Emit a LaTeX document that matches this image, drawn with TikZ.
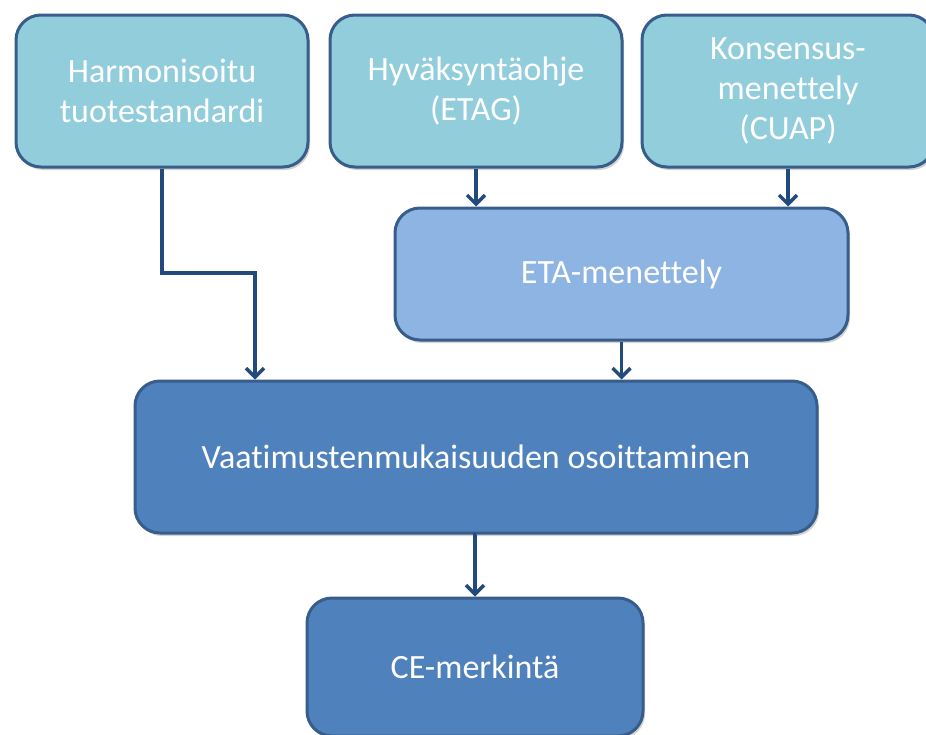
\documentclass[tikz,border=0pt]{standalone}
\usepackage{fontspec}
\setmainfont{Carlito}[Ligatures=NoCommon]
\usetikzlibrary{arrows.meta,shadows,calc}
\definecolor{lightbox}{HTML}{92CDDC}
\definecolor{midbox}{HTML}{8EB4E3}
\definecolor{darkbox}{HTML}{4F81BD}
\definecolor{boxborder}{HTML}{385D8A}
\definecolor{arrowcol}{HTML}{234A7C}
\tikzset{
  flowbox/.style={draw=boxborder, line width=3pt, rounded corners=25pt, text=white,
    align=center, inner sep=0pt, font=\fontsize{34}{40}\selectfont,
    drop shadow={opacity=0.35, shadow xshift=2pt, shadow yshift=-3pt}},
  lightstyle/.style={flowbox, fill=lightbox},
  midstyle/.style={flowbox, fill=midbox},
  darkstyle/.style={flowbox, fill=darkbox},
  conn/.style={draw=arrowcol, line width=3.5pt, -{Straight Barb[length=9pt,width=18pt,line width=3.5pt]}}
}
\begin{document}
\begin{tikzpicture}[x=1pt,y=-1pt]
\useasboundingbox (0,0) rectangle (926,734);
\begin{scope}
\clip (0,0) rectangle (926,734);
\node[lightstyle, minimum width=292pt, minimum height=152pt] (harm) at (162,91) {Harmonisoitu\\tuotestandardi};
\node[lightstyle, minimum width=292pt, minimum height=152pt] (hyv) at (476,91) {Hyväksyntäohje\\(ETAG)};
\node[lightstyle, minimum width=292pt, minimum height=152pt] (kons) at (788,91) {Konsensus-\\menettely\\(CUAP)};
\node[midstyle, minimum width=453pt, minimum height=132pt] (eta) at (621.5,274) {ETA-menettely};
\node[darkstyle, minimum width=682pt, minimum height=152pt] (vaat) at (476,457) {Vaatimustenmukaisuuden osoittaminen};
\node[darkstyle, minimum width=336pt, minimum height=138pt] (ce) at (475,667) {CE-merkintä};
\coordinate (bend) at (255,273);
\draw[conn] (harm.south) -- (harm.south |- bend) -- (bend) -- (bend |- vaat.north);
\draw[conn] (hyv.south) -- (hyv.south |- eta.north);
\draw[conn] (kons.south) -- (kons.south |- eta.north);
\draw[conn] (eta.south) -- (eta.south |- vaat.north);
\draw[conn] (vaat.south) -- (vaat.south -| ce.north) -- (ce.north);
\end{scope}
\end{tikzpicture}
\end{document}
